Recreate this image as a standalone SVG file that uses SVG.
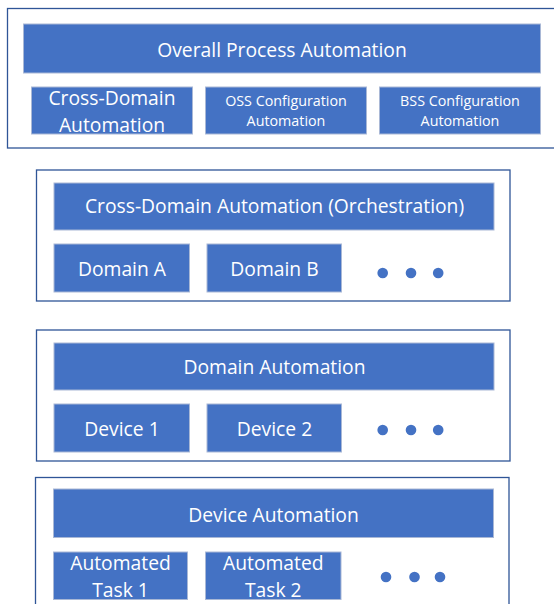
<svg xmlns="http://www.w3.org/2000/svg" width="554" height="604" viewBox="0 0 554 604">
  <style>
    .frame { fill: #ffffff; stroke: #2f5597; stroke-width: 1.3; }
    .box { fill: #4472c4; stroke: #a9b8d6; stroke-width: 1; }
    .dot { fill: #4472c4; }
    text { font-family: "Open Sans", "Noto Sans", sans-serif; fill: #ffffff; text-anchor: middle; }
    .lg { font-size: 19.3px; }
    .sm { font-size: 14.3px; }
  </style>
  <rect width="554" height="604" fill="#ffffff"/>

  <!-- Layer 1: overall process automation -->
  <g id="layer-process">
    <rect class="frame" x="7.5" y="8.5" width="560" height="139.5"/>
    <g id="overall-process">
      <rect class="box" x="23.5" y="24" width="517" height="49"/>
      <text class="lg" x="282" y="56.5">Overall Process Automation</text>
    </g>
    <g id="cross-domain-small">
      <rect class="box" x="31.5" y="87" width="161" height="47"/>
      <text class="lg" x="112" y="105">Cross-Domain</text>
      <text class="lg" x="112" y="131.5">Automation</text>
    </g>
    <g id="oss-config">
      <rect class="box" x="205.5" y="87" width="161" height="47"/>
      <text class="sm" x="286" y="106">OSS Configuration</text>
      <text class="sm" x="286" y="125.5">Automation</text>
    </g>
    <g id="bss-config">
      <rect class="box" x="379.5" y="87" width="161" height="47"/>
      <text class="sm" x="460" y="106">BSS Configuration</text>
      <text class="sm" x="460" y="125.5">Automation</text>
    </g>
  </g>

  <!-- Layer 2: cross-domain orchestration -->
  <g id="layer-cross-domain">
    <rect class="frame" x="36.5" y="170" width="473.5" height="131"/>
    <g id="orchestration">
      <rect class="box" x="54" y="183" width="440" height="47"/>
      <text class="lg" x="274.5" y="213.3">Cross-Domain Automation (Orchestration)</text>
    </g>
    <g id="domain-a">
      <rect class="box" x="54" y="244" width="135.5" height="48"/>
      <text class="lg" x="122" y="275.5">Domain A</text>
    </g>
    <g id="domain-b">
      <rect class="box" x="207" y="244" width="134.5" height="48"/>
      <text class="lg" x="274.5" y="275.5">Domain B</text>
    </g>
    <g id="domain-more">
      <circle class="dot" cx="382.7" cy="273" r="5.3"/>
      <circle class="dot" cx="411" cy="273" r="5.3"/>
      <circle class="dot" cx="438.2" cy="273" r="5.3"/>
    </g>
  </g>

  <!-- Layer 3: domain automation -->
  <g id="layer-domain">
    <rect class="frame" x="36.5" y="330" width="473.5" height="131"/>
    <g id="domain-automation">
      <rect class="box" x="54" y="343" width="440" height="47"/>
      <text class="lg" x="274.5" y="374">Domain Automation</text>
    </g>
    <g id="device-1">
      <rect class="box" x="54" y="404" width="135.5" height="48"/>
      <text class="lg" x="122" y="435.5">Device 1</text>
    </g>
    <g id="device-2">
      <rect class="box" x="207" y="404" width="134.5" height="48"/>
      <text class="lg" x="274.5" y="435.5">Device 2</text>
    </g>
    <g id="device-more">
      <circle class="dot" cx="382.7" cy="430" r="5.3"/>
      <circle class="dot" cx="411" cy="430" r="5.3"/>
      <circle class="dot" cx="438.2" cy="430" r="5.3"/>
    </g>
  </g>

  <!-- Layer 4: device automation -->
  <g id="layer-device">
    <rect class="frame" x="35.5" y="477.5" width="473.5" height="140"/>
    <g id="device-automation">
      <rect class="box" x="53.5" y="489" width="440" height="48.5"/>
      <text class="lg" x="273.5" y="521.5">Device Automation</text>
    </g>
    <g id="task-1">
      <rect class="box" x="53.5" y="552" width="134" height="47.5"/>
      <text class="lg" x="120.5" y="569.5">Automated</text>
      <text class="lg" x="120.5" y="596.5">Task 1</text>
    </g>
    <g id="task-2">
      <rect class="box" x="205.5" y="552" width="135.5" height="47.5"/>
      <text class="lg" x="273.3" y="569.5">Automated</text>
      <text class="lg" x="273.3" y="596.5">Task 2</text>
    </g>
    <g id="task-more">
      <circle class="dot" cx="386" cy="577" r="5.3"/>
      <circle class="dot" cx="414.5" cy="577" r="5.3"/>
      <circle class="dot" cx="440" cy="577" r="5.3"/>
    </g>
  </g>
</svg>
